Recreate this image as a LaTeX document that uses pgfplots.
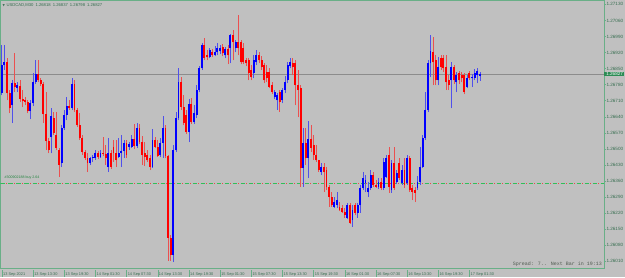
\documentclass[border=0pt]{standalone}
\usepackage{pgfplots}
\pgfplotsset{compat=1.18}
\usepackage{pgfplotstable}
\usepackage{fontspec}
\setmainfont{Liberation Sans}
\newfontfamily\monofont{Liberation Mono}
\newfontfamily\dejavu{DejaVu Sans}
\definecolor{bg}{RGB}{192,192,192}
\definecolor{axgreen}{RGB}{105,175,135}
\definecolor{txtgreen}{RGB}{55,110,80}
\definecolor{pricegreen}{RGB}{45,140,85}
\definecolor{bidgray}{RGB}{140,140,140}
\definecolor{ordgreen}{RGB}{50,190,90}
\definecolor{ordred}{RGB}{240,70,70}
\definecolor{spreadcol}{RGB}{80,90,80}
\definecolor{bull}{RGB}{0,0,255}
\definecolor{bear}{RGB}{255,0,0}
\definecolor{bullw}{RGB}{80,80,235}
\definecolor{bearw}{RGB}{235,80,80}
\newcommand\xt[1]{\textcolor{axgreen}{\rule[-1.5pt]{0.6pt}{6.5pt}}\hspace{0.8pt}#1}

\pgfplotstableread{
i o h l c
0 1.26742 1.26951 1.26734 1.26864
1 1.26864 1.26951 1.26843 1.26877
2 1.26877 1.26895 1.26712 1.26742
3 1.26742 1.26756 1.26655 1.26677
4 1.26690 1.26799 1.26612 1.26786
5 1.26786 1.26916 1.26747 1.26769
6 1.26764 1.26790 1.26747 1.26777
7 1.26773 1.26799 1.26703 1.26716
8 1.26716 1.26756 1.26682 1.26708
9 1.26712 1.26725 1.26690 1.26703
10 1.26703 1.26712 1.26655 1.26664
11 1.26664 1.26712 1.26629 1.26699
12 1.26699 1.26829 1.26686 1.26790
13 1.26790 1.26886 1.26782 1.26825
14 1.26825 1.26886 1.26790 1.26799
15 1.26799 1.26808 1.26773 1.26782
16 1.26782 1.26790 1.26612 1.26651
17 1.26651 1.26747 1.26495 1.26534
18 1.26534 1.26547 1.26481 1.26495
19 1.26551 1.26677 1.26481 1.26642
20 1.26634 1.26660 1.26560 1.26568
21 1.26560 1.26660 1.26495 1.26503
22 1.26495 1.26503 1.26377 1.26429
23 1.26438 1.26603 1.26421 1.26590
24 1.26590 1.26669 1.26582 1.26647
25 1.26647 1.26725 1.26625 1.26686
26 1.26686 1.26712 1.26669 1.26677
27 1.26677 1.26808 1.26669 1.26782
28 1.26782 1.26799 1.26660 1.26669
29 1.26669 1.26677 1.26595 1.26603
30 1.26603 1.26655 1.26538 1.26547
31 1.26547 1.26560 1.26473 1.26486
32 1.26486 1.26495 1.26451 1.26460
33 1.26460 1.26481 1.26399 1.26438
34 1.26438 1.26464 1.26429 1.26460
35 1.26460 1.26473 1.26442 1.26464
36 1.26460 1.26495 1.26451 1.26481
37 1.26481 1.26490 1.26455 1.26464
38 1.26464 1.26495 1.26460 1.26481
39 1.26481 1.26551 1.26468 1.26477
40 1.26477 1.26516 1.26429 1.26460
41 1.26421 1.26547 1.26399 1.26481
42 1.26481 1.26495 1.26412 1.26421
43 1.26508 1.26538 1.26442 1.26481
44 1.26481 1.26538 1.26421 1.26451
45 1.26464 1.26547 1.26460 1.26481
46 1.26481 1.26560 1.26421 1.26490
47 1.26490 1.26538 1.26460 1.26525
48 1.26525 1.26538 1.26460 1.26473
49 1.26508 1.26529 1.26495 1.26521
50 1.26508 1.26560 1.26503 1.26542
51 1.26542 1.26608 1.26499 1.26512
52 1.26512 1.26612 1.26503 1.26590
53 1.26590 1.26608 1.26521 1.26529
54 1.26529 1.26555 1.26429 1.26473
55 1.26481 1.26529 1.26425 1.26464
56 1.26473 1.26495 1.26442 1.26451
57 1.26460 1.26473 1.26408 1.26421
58 1.26421 1.26586 1.26416 1.26538
59 1.26538 1.26551 1.26503 1.26508
60 1.26508 1.26538 1.26464 1.26468
61 1.26473 1.26547 1.26464 1.26525
62 1.26525 1.26642 1.26460 1.26590
63 1.26590 1.26603 1.26460 1.26468
64 1.26468 1.26473 1.26012 1.26112
65 1.26112 1.26125 1.26012 1.26038
66 1.26038 1.26516 1.26007 1.26495
67 1.26495 1.26660 1.26486 1.26634
68 1.26634 1.26851 1.26625 1.26790
69 1.26790 1.26812 1.26669 1.26682
70 1.26682 1.26734 1.26603 1.26612
71 1.26647 1.26669 1.26564 1.26573
72 1.26573 1.26716 1.26529 1.26695
73 1.26695 1.26721 1.26608 1.26616
74 1.26616 1.26690 1.26608 1.26655
75 1.26647 1.26777 1.26634 1.26756
76 1.26756 1.26860 1.26747 1.26851
77 1.26851 1.26960 1.26843 1.26951
78 1.26951 1.26982 1.26886 1.26895
79 1.26908 1.26930 1.26886 1.26899
80 1.26899 1.26938 1.26895 1.26930
81 1.26921 1.26934 1.26899 1.26908
82 1.26908 1.26947 1.26903 1.26921
83 1.26921 1.26960 1.26908 1.26938
84 1.26925 1.26951 1.26912 1.26938
85 1.26943 1.26956 1.26903 1.26916
86 1.26908 1.26943 1.26895 1.26934
87 1.26934 1.26951 1.26869 1.26908
88 1.26938 1.27003 1.26873 1.26995
89 1.26995 1.27017 1.26886 1.26964
90 1.26938 1.26973 1.26921 1.26964
91 1.26964 1.27082 1.26908 1.26938
92 1.26964 1.26973 1.26869 1.26877
93 1.26938 1.26960 1.26869 1.26877
94 1.26886 1.26895 1.26860 1.26873
95 1.26886 1.26895 1.26799 1.26829
96 1.26843 1.26864 1.26799 1.26812
97 1.26829 1.26908 1.26808 1.26886
98 1.26877 1.26930 1.26864 1.26908
99 1.26908 1.26921 1.26873 1.26886
100 1.26886 1.26903 1.26843 1.26856
101 1.26864 1.26873 1.26786 1.26799
102 1.26834 1.26864 1.26790 1.26808
103 1.26834 1.26851 1.26764 1.26769
104 1.26777 1.26790 1.26738 1.26747
105 1.26725 1.26756 1.26716 1.26747
106 1.26712 1.26742 1.26669 1.26734
107 1.26747 1.26756 1.26660 1.26703
108 1.26712 1.26764 1.26699 1.26756
109 1.26756 1.26816 1.26742 1.26790
110 1.26799 1.26877 1.26786 1.26864
111 1.26860 1.26895 1.26851 1.26877
112 1.26873 1.26895 1.26821 1.26856
113 1.26873 1.26886 1.26690 1.26777
114 1.26777 1.26843 1.26638 1.26756
115 1.26764 1.26777 1.26334 1.26416
116 1.26416 1.26590 1.26334 1.26525
117 1.26525 1.26590 1.26429 1.26460
118 1.26460 1.26621 1.26373 1.26542
119 1.26542 1.26603 1.26486 1.26503
120 1.26516 1.26560 1.26451 1.26473
121 1.26473 1.26516 1.26442 1.26451
122 1.26451 1.26451 1.26399 1.26408
123 1.26399 1.26438 1.26386 1.26421
124 1.26421 1.26438 1.26312 1.26399
125 1.26408 1.26421 1.26321 1.26334
126 1.26334 1.26342 1.26247 1.26290
127 1.26290 1.26312 1.26247 1.26255
128 1.26247 1.26290 1.26242 1.26268
129 1.26255 1.26312 1.26242 1.26277
130 1.26247 1.26268 1.26229 1.26234
131 1.26242 1.26255 1.26221 1.26225
132 1.26225 1.26242 1.26199 1.26212
133 1.26199 1.26264 1.26194 1.26255
134 1.26255 1.26264 1.26173 1.26177
135 1.26190 1.26255 1.26160 1.26234
136 1.26255 1.26264 1.26212 1.26221
137 1.26221 1.26264 1.26199 1.26255
138 1.26255 1.26342 1.26221 1.26329
139 1.26329 1.26399 1.26321 1.26373
140 1.26351 1.26386 1.26312 1.26364
141 1.26312 1.26355 1.26290 1.26329
142 1.26329 1.26408 1.26321 1.26386
143 1.26386 1.26399 1.26334 1.26342
144 1.26342 1.26364 1.26329 1.26334
145 1.26334 1.26373 1.26325 1.26355
146 1.26355 1.26373 1.26321 1.26329
147 1.26329 1.26460 1.26321 1.26442
148 1.26377 1.26473 1.26373 1.26460
149 1.26473 1.26508 1.26308 1.26334
150 1.26321 1.26451 1.26308 1.26438
151 1.26438 1.26508 1.26321 1.26329
152 1.26355 1.26408 1.26347 1.26395
153 1.26438 1.26460 1.26364 1.26373
154 1.26351 1.26429 1.26342 1.26408
155 1.26408 1.26460 1.26329 1.26342
156 1.26351 1.26473 1.26342 1.26460
157 1.26460 1.26468 1.26312 1.26321
158 1.26329 1.26342 1.26277 1.26312
159 1.26321 1.26334 1.26268 1.26308
160 1.26329 1.26381 1.26321 1.26355
161 1.26355 1.26508 1.26342 1.26421
162 1.26421 1.26560 1.26416 1.26547
163 1.26547 1.26747 1.26538 1.26669
164 1.26669 1.26886 1.26660 1.26873
165 1.26873 1.26995 1.26812 1.26925
166 1.26921 1.26986 1.26777 1.26877
167 1.26886 1.26908 1.26777 1.26799
168 1.26799 1.26899 1.26777 1.26856
169 1.26895 1.26908 1.26843 1.26856
170 1.26895 1.26908 1.26834 1.26851
171 1.26856 1.26908 1.26756 1.26790
172 1.26799 1.26821 1.26756 1.26777
173 1.26799 1.26877 1.26677 1.26856
174 1.26856 1.26864 1.26782 1.26799
175 1.26790 1.26834 1.26747 1.26821
176 1.26829 1.26838 1.26782 1.26799
177 1.26821 1.26834 1.26790 1.26808
178 1.26821 1.26829 1.26738 1.26747
179 1.26769 1.26821 1.26764 1.26808
180 1.26829 1.26838 1.26799 1.26808
181 1.26808 1.26825 1.26769 1.26812
182 1.26808 1.26847 1.26799 1.26829
183 1.26821 1.26851 1.26786 1.26838
184 1.26818 1.26837 1.26798 1.26827
}\candles

\begin{document}
\begin{tikzpicture}
\fill[bg] (0,0) rectangle (625pt,277pt);
\useasboundingbox (0,0) rectangle (625pt,277pt);
\begin{axis}[
  at={(0.5pt,9pt)}, anchor=south west,
  scale only axis, width=603.5pt, height=267.5pt,
  xmin=-0.5, xmax=231.8, ymin=1.25981, ymax=1.27147,
  clip mode=individual,
  axis line style={draw=axgreen, line width=0.9pt},
  axis background/.style={fill=bg},
  ytick={1.26010,1.26080,1.26150,1.26220,1.26290,1.26360,1.26430,1.26500,1.26570,1.26640,1.26710,1.26780,1.26850,1.26920,1.26990,1.27060,1.27130},
  yticklabels={1.26010,1.26080,1.26150,1.26220,1.26290,1.26360,1.26430,1.26500,1.26570,1.26640,1.26710,1.26780,1.26850,1.26920,1.26990,1.27060,1.27130},
  ytick pos=right, yticklabel pos=right,
  xtick={0,12,24,36,48,60,72,84,96,108,120,132,144,156,168,180},
  xticklabels={\xt{13 Sep 2021},\xt{13 Sep 13:30},\xt{13 Sep 19:30},\xt{14 Sep 01:30},\xt{14 Sep 07:30},\xt{14 Sep 13:30},\xt{14 Sep 19:30},\xt{15 Sep 01:30},\xt{15 Sep 07:30},\xt{15 Sep 13:30},\xt{15 Sep 19:30},\xt{16 Sep 01:30},\xt{16 Sep 07:30},\xt{16 Sep 13:30},\xt{16 Sep 19:30},\xt{17 Sep 01:30}},
  xtick pos=bottom,
  xtick style={draw=none},
  ytick style={draw=axgreen, line width=0.6pt},
  tick align=outside, major tick length=2pt,
  xticklabel style={font=\fontsize{3.9}{4}\selectfont, text=txtgreen, anchor=north west, inner sep=0pt, xshift=-0.3pt},
  yticklabel style={font=\fontsize{4.6}{5}\selectfont, text=txtgreen, anchor=west, inner sep=0pt, xshift=0.3pt},
  candle/.style={draw=none, mark=none, error bars/y dir=plus, error bars/y explicit, error bars/error mark=none},
]
% bid line and order line
\addplot[bidgray, line width=0.7pt] coordinates {(-0.5,1.26827) (231.8,1.26827)};
\addplot[ordgreen, line width=0.8pt, dash pattern=on 4.5pt off 3.5pt] coordinates {(-0.5,1.26351) (231.8,1.26351)};
\addplot[ordred, line width=0.8pt, dash pattern=on 1.3pt off 6.7pt, dash phase=-5.6pt] coordinates {(-0.5,1.26351) (231.8,1.26351)};
% wicks
\addplot[candle, restrict expr to domain={\thisrow{c}-\thisrow{o}}{0:1},
  error bars/error bar style={draw=bullw, line width=0.6pt}]
  table[x=i, y=l, y error plus expr={\thisrow{h}-\thisrow{l}}] \candles;
\addplot[candle, restrict expr to domain={\thisrow{c}-\thisrow{o}}{-1:0},
  error bars/error bar style={draw=bearw, line width=0.6pt}]
  table[x=i, y=l, y error plus expr={\thisrow{h}-\thisrow{l}}] \candles;
% bodies
\addplot[candle, restrict expr to domain={\thisrow{c}-\thisrow{o}}{0:1},
  error bars/error bar style={draw=bull, line width=1.9pt}]
  table[x=i, y expr={min(\thisrow{o},\thisrow{c})}, y error plus expr={max(abs(\thisrow{c}-\thisrow{o}),0.00002)}] \candles;
\addplot[candle, restrict expr to domain={\thisrow{c}-\thisrow{o}}{-1:0},
  error bars/error bar style={draw=bear, line width=1.9pt}]
  table[x=i, y expr={min(\thisrow{o},\thisrow{c})}, y error plus expr={max(abs(\thisrow{c}-\thisrow{o}),0.00002)}] \candles;
% texts
\node[anchor=south west, inner sep=0pt, text=ordgreen!70!black, font=\fontsize{3.6}{4}\selectfont] at (axis cs:1,1.26365) {\#300902188 buy 2.64};
\node[anchor=west, fill=pricegreen, text=white, inner sep=0.6pt, font=\fontsize{4.6}{5}\selectfont] at (axis cs:231.8,1.26827) {\hspace{1.5pt}1.26827};
\node[anchor=north west, inner sep=0pt, text=txtgreen, font=\fontsize{4.2}{5}\selectfont] at (rel axis cs:0,1) [xshift=2pt, yshift=-3pt] {{\dejavu\fontsize{3}{4}\selectfont ▼}\hspace{1.5pt}USDCAD,M30\hspace{2pt}1.26818\hspace{2pt}1.26837\hspace{2pt}1.26798\hspace{2pt}1.26827};
\node[anchor=south east, inner sep=0pt, text=spreadcol, font=\monofont\fontsize{5}{5}\selectfont] at (rel axis cs:1,0) [xshift=-2pt, yshift=1.5pt] {Spread: 7.. Next Bar in 19:13};
\end{axis}
\end{tikzpicture}
\end{document}
